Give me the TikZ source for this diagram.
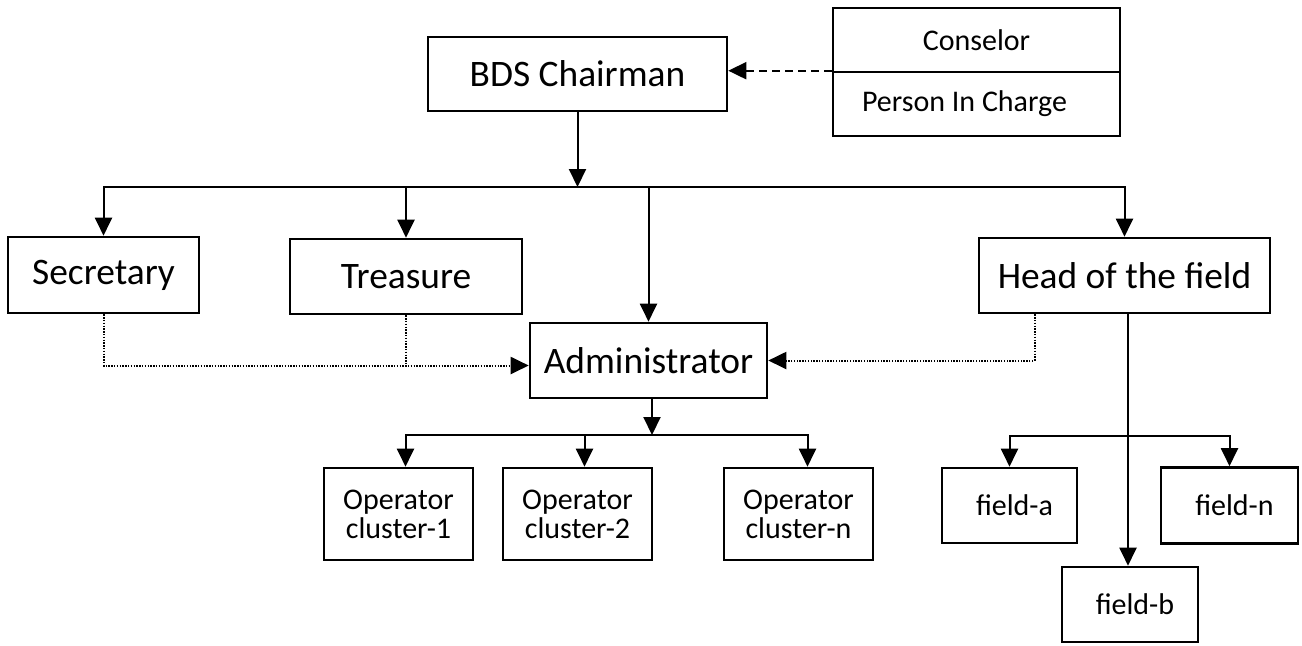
\documentclass[tikz,border=0pt]{standalone}
\usepackage{fontspec}
\setmainfont{Carlito}
\usetikzlibrary{arrows.meta}

\begin{document}
\begin{tikzpicture}[x=0.5pt,y=-0.5pt,>={Triangle[length=9pt,width=8.5pt]},line width=1pt,
                    big node/.style={rectangle,draw,line width=1.3pt,inner sep=0pt,font=\fontsize{18.7}{22}\selectfont},
                    small node/.style={rectangle,draw,line width=1.3pt,inner sep=0pt,align=center,font=\fontsize{15}{14.5}\selectfont},
                    elbow/.style={to path={-| (\tikztotarget)}},
                    drop/.style={to path={|- (\tikztotarget)}},
                    link/.style={line width=1pt,dash pattern=on 0.7pt off 0.7pt}]
  \useasboundingbox (0,0) rectangle (1302,645);
  \node[big node,minimum width=149.5pt,minimum height=37pt] (chair) at (577.5,74) {BDS Chairman};
  \node[small node,minimum width=143.5pt,minimum height=32pt] (consel) at (976.5,40) {Conselor};
  \node[small node,minimum width=143.5pt,minimum height=32pt] (person) at (976.5,104) {Person In Charge\hspace{12pt}};
  \node[big node,minimum width=95.5pt,minimum height=38pt] (sec) at (103.5,275) {Secretary};
  \node[big node,minimum width=116pt,minimum height=37.5pt] (treas) at (406,276.5) {Treasure};
  \node[big node,minimum width=118.5pt,minimum height=37.5pt] (admin) at (648.5,360.5) {Administrator};
  \node[big node,minimum width=145.5pt,minimum height=37.5pt] (head) at (1124.5,275.5) {Head of the field};
  \node[small node,minimum width=74.5pt,minimum height=46pt] (op1) at (398.5,514) {Operator\\cluster-1};
  \node[small node,minimum width=74.5pt,minimum height=46pt] (op2) at (577.5,514) {Operator\\cluster-2};
  \node[small node,minimum width=74.5pt,minimum height=46pt] (opn) at (798.5,514) {Operator\\cluster-n};
  \node[small node,minimum width=67.5pt,minimum height=37.5pt] (fielda) at (1009.5,505.5) {\hspace{5pt}field-a};
  \node[small node,minimum width=68.5pt,minimum height=38pt] (fieldn) at (1229.5,505.5) {\hspace{5pt}field-n};
  \node[small node,minimum width=68pt,minimum height=37.5pt] (fieldb) at (1130,604.5) {\hspace{5pt}field-b};
  % junctions
  \coordinate (bus) at (577.5,187);
  \coordinate (opbus) at (652,435);
  \coordinate (fieldbus) at (1128,436);
  \coordinate (adminw) at ([yshift=-2.5pt]admin.west);
  \coordinate (headd) at ([xshift=-45pt]head.south);
  \path[->]
    (person.north west) edge [dash pattern=on 4pt off 2.5pt] (chair.east |- person.north west)
    (chair) edge (bus)
    (bus) edge [elbow] (sec)
          edge [elbow] (treas)
          edge [elbow] (admin)
          edge [elbow] (head)
    (sec) edge [link,drop] (adminw)
    (treas) edge [link,-] (treas.south |- adminw)
    (headd) edge [link,drop] (admin)
    (opbus |- admin.south) edge (opbus)
    (opbus) edge [elbow] ([xshift=3.5pt]op1.north)
            edge [elbow] ([xshift=3.5pt]op2.north)
            edge [elbow] ([xshift=4.5pt]opn.north)
    (head.south -| fieldbus) edge (fieldb.north -| fieldbus)
    (fieldbus) edge [elbow] (fielda)
               edge [elbow] (fieldn);
\end{tikzpicture}
\end{document}
